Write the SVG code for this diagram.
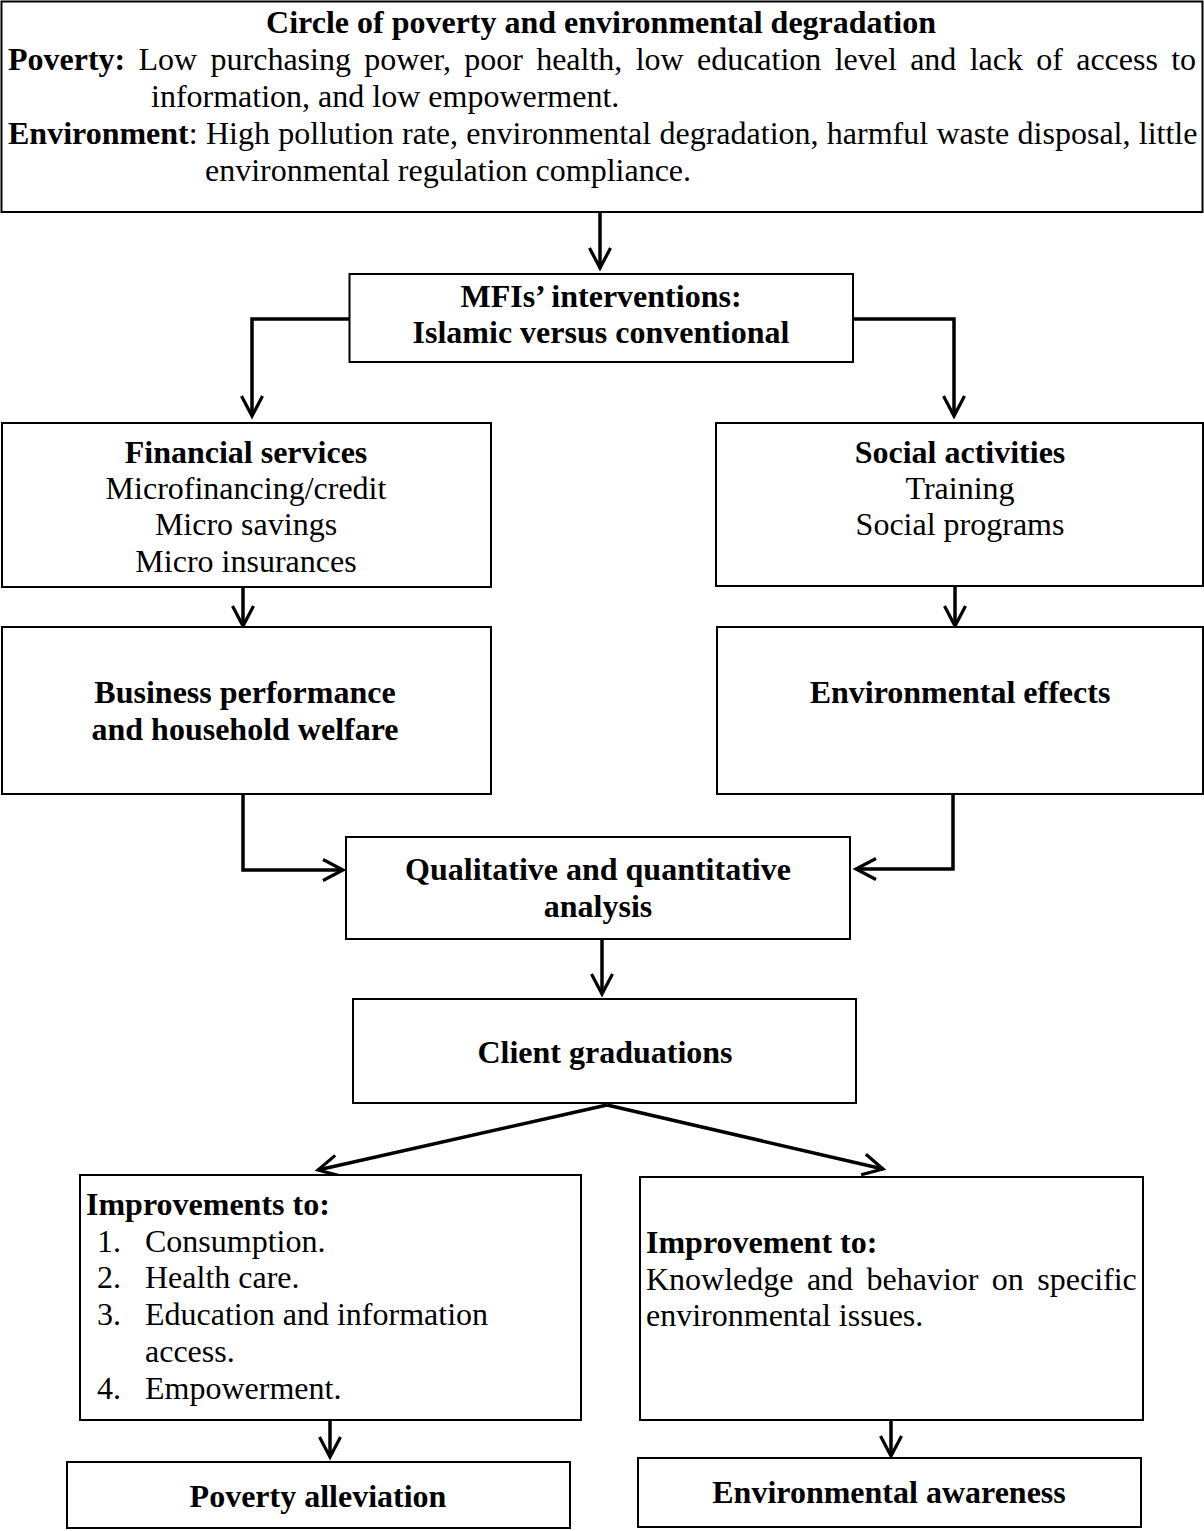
<svg xmlns="http://www.w3.org/2000/svg" width="1204" height="1531" viewBox="0 0 1204 1531">
  <style>
    .box { fill: #fff; stroke: #000; stroke-width: 2; }
    .t { font-family: "Liberation Serif", "Times New Roman", serif; font-size: 32px; fill: #000; }
    .b { font-weight: bold; }
    .c { text-anchor: middle; }
    .link { fill: none; stroke: #000; stroke-width: 3.5; marker-end: url(#arr); }
  </style>
  <defs>
    <marker id="arr" markerUnits="userSpaceOnUse" viewBox="-25 -15 30 30" markerWidth="30" markerHeight="30" refX="0" refY="0" orient="auto" overflow="visible">
      <path d="M-20,-10.5 L0,0 L-20,10.5" fill="none" stroke="#000" stroke-width="3.2"/>
    </marker>
  </defs>
  <rect width="1204" height="1531" fill="#fff"/>

  <g id="connectors">
    <path class="link" d="M600,212 V268"/>
    <path class="link" d="M349,319 H252 V416"/>
    <path class="link" d="M853,319 H954 V416"/>
    <path class="link" d="M243,587 V626"/>
    <path class="link" d="M955,586 V626"/>
    <path class="link" d="M243,794 V870 H343"/>
    <path class="link" d="M953,794 V869 H856"/>
    <path class="link" d="M602,939 V994"/>
    <path class="link" d="M607,1105 L318,1170"/>
    <path class="link" d="M607,1105 L883,1169"/>
    <path class="link" d="M330,1420 V1457"/>
    <path class="link" d="M891,1420 V1456"/>
  </g>

  <g id="node-circle">
    <rect class="box" x="1.5" y="1.5" width="1201" height="210.5"/>
    <text class="t b c" x="601" y="33">Circle of poverty and environmental degradation</text>
    <text class="t" x="8" y="70" word-spacing="5.3"><tspan class="b">Poverty:</tspan> Low purchasing power, poor health, low education level and lack of access to</text>
    <text class="t" x="151" y="107">information, and low empowerment.</text>
    <text class="t" x="8" y="144" word-spacing="0.3"><tspan class="b">Environment</tspan>: High pollution rate, environmental degradation, harmful waste disposal, little</text>
    <text class="t" x="205" y="181">environmental regulation compliance.</text>
  </g>

  <g id="node-mfi">
    <rect class="box" x="349.5" y="274" width="503.5" height="88"/>
    <text class="t b c" x="601" y="307">MFIs’ interventions:</text>
    <text class="t b c" x="601" y="343">Islamic versus conventional</text>
  </g>

  <g id="node-financial">
    <rect class="box" x="2" y="423" width="489" height="164"/>
    <text class="t b c" x="246" y="463">Financial services</text>
    <text class="t c" x="246" y="499">Microfinancing/credit</text>
    <text class="t c" x="246" y="535">Micro savings</text>
    <text class="t c" x="246" y="572">Micro insurances</text>
  </g>

  <g id="node-social">
    <rect class="box" x="716" y="423" width="487" height="163"/>
    <text class="t b c" x="960" y="463">Social activities</text>
    <text class="t c" x="960" y="499">Training</text>
    <text class="t c" x="960" y="535">Social programs</text>
  </g>

  <g id="node-business">
    <rect class="box" x="2" y="627" width="489" height="167"/>
    <text class="t b c" x="245" y="703">Business performance</text>
    <text class="t b c" x="245" y="740">and household welfare</text>
  </g>

  <g id="node-env-effects">
    <rect class="box" x="717" y="627" width="486" height="167"/>
    <text class="t b c" x="960" y="703">Environmental effects</text>
  </g>

  <g id="node-analysis">
    <rect class="box" x="346" y="837" width="504" height="102"/>
    <text class="t b c" x="598" y="880">Qualitative and quantitative</text>
    <text class="t b c" x="598" y="917">analysis</text>
  </g>

  <g id="node-graduations">
    <rect class="box" x="353" y="999" width="503" height="104"/>
    <text class="t b c" x="605" y="1063">Client graduations</text>
  </g>

  <g id="node-improvements">
    <rect class="box" x="80" y="1175" width="501" height="245"/>
    <text class="t b" x="86" y="1215">Improvements to:</text>
    <text class="t" x="97" y="1252">1.</text>
    <text class="t" x="145" y="1252">Consumption.</text>
    <text class="t" x="97" y="1288">2.</text>
    <text class="t" x="145" y="1288">Health care.</text>
    <text class="t" x="97" y="1325">3.</text>
    <text class="t" x="145" y="1325">Education and information</text>
    <text class="t" x="145" y="1362">access.</text>
    <text class="t" x="97" y="1399">4.</text>
    <text class="t" x="145" y="1399">Empowerment.</text>
  </g>

  <g id="node-improvement-env">
    <rect class="box" x="640" y="1177" width="503" height="243"/>
    <text class="t b" x="646" y="1253">Improvement to:</text>
    <text class="t" x="646" y="1290" word-spacing="5.4">Knowledge and behavior on specific</text>
    <text class="t" x="646" y="1326">environmental issues.</text>
  </g>

  <g id="node-poverty-alleviation">
    <rect class="box" x="67" y="1462" width="503" height="66"/>
    <text class="t b c" x="318" y="1507">Poverty alleviation</text>
  </g>

  <g id="node-env-awareness">
    <rect class="box" x="638" y="1458" width="503" height="69"/>
    <text class="t b c" x="889" y="1503">Environmental awareness</text>
  </g>
</svg>
